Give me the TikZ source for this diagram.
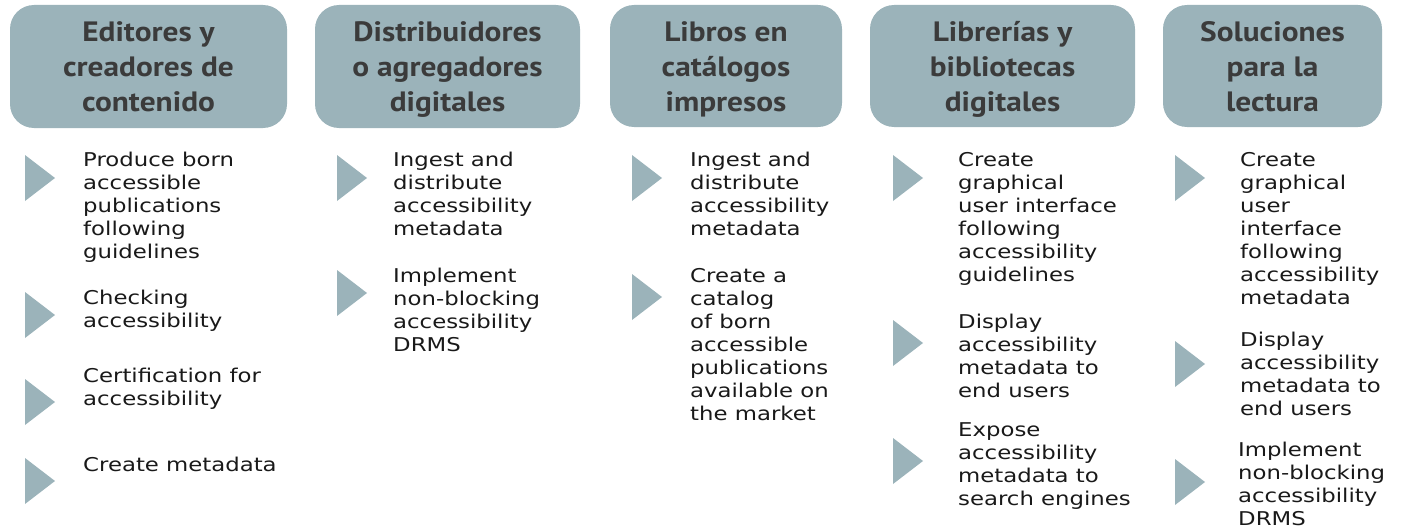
\documentclass[tikz,border=0pt]{standalone}
\usepackage{fontspec}
\setmainfont{DejaVu Sans}
\newfontfamily\bodyfont{DejaVu Sans}[FakeStretch=1.2]
\newfontfamily\headfont{PT Sans}[FakeStretch=1.12]
\definecolor{boxgray}{HTML}{9BB3BA}
\definecolor{headtext}{HTML}{3B3B3B}
\begin{document}
\begin{tikzpicture}[x=1pt, y=-1pt,
    head/.style={fill=boxgray, rounded corners=24pt, inner sep=0pt},
    headlabel/.style={anchor=north, inner sep=0pt, align=center, text=headtext, font=\headfont\bfseries\fontsize{28}{35}\selectfont},
    tri/.style={fill=boxgray},
    body/.style={anchor=north west, inner sep=0pt, align=left, text=black!90, font=\bodyfont\fontsize{19}{23}\selectfont}]
  \useasboundingbox (0,0) rectangle (1402,527);
  % column headers
  \fill[head] (10,5) rectangle (287,128);
  \fill[head] (315,5) rectangle (580,128);
  \fill[head] (610,5) rectangle (842,127);
  \fill[head] (870,5) rectangle (1135,127);
  \fill[head] (1163,5) rectangle (1382,127);
  \node[headlabel] (editores) at (148.5,17) {\strut Editores y\\creadores de\\contenido};
  \node[headlabel] (distrib) at (447.5,17) {\strut Distribuidores\\o agregadores\\digitales};
  \node[headlabel] (libros) at (726,17) {\strut Libros en\\catálogos\\impresos};
  \node[headlabel] (librerias) at (1002.5,17) {\strut Librerías y\\bibliotecas\\digitales};
  \node[headlabel] (soluciones) at (1272.5,17) {\strut Soluciones\\para la\\lectura};
  % bullets
  \foreach \x/\y in {25/178, 25/315, 25/402, 25/481, 337/178, 337/293, 632/178, 632/297,
                     893/178, 893/343, 893/461, 1175/178, 1175/364, 1175/482}
    \fill[tri] (\x,\y-23) -- (\x+30,\y) -- (\x,\y+23) -- cycle;
  % column 1
  \node[body] (ed1) at (83,150) {\strut Produce born\\accessible\\publications\\following\\guidelines};
  \node[body] (ed2) at (83,288) {\strut Checking\\accessibility};
  \node[body] (ed3) at (83,366) {\strut Certification for\\accessibility};
  \node[body] (ed4) at (83,455) {\strut Create metadata};
  % column 2
  \node[body] (di1) at (393,150) {\strut Ingest and\\distribute\\accessibility\\metadata};
  \node[body] (di2) at (393,266) {\strut Implement\\non-blocking\\accessibility\\DRMS};
  % column 3
  \node[body] (li1) at (690,150) {\strut Ingest and\\distribute\\accessibility\\metadata};
  \node[body] (li2) at (690,266) {\strut Create a\\catalog\\of born\\accessible\\publications\\available on\\the market};
  % column 4
  \node[body] (lb1) at (958,150) {\strut Create\\graphical\\user interface\\following\\accessibility\\guidelines};
  \node[body] (lb2) at (958,312) {\strut Display\\accessibility\\metadata to\\end users};
  \node[body] (lb3) at (958,420) {\strut Expose\\accessibility\\metadata to\\search engines};
  % column 5
  \node[body] (so1) at (1240,150) {\strut Create\\graphical\\user\\interface\\following\\accessibility\\metadata};
  \node[body] (so2) at (1240,330) {\strut Display\\accessibility\\metadata to\\end users};
  \node[body] (so3) at (1238,440) {\strut Implement\\non-blocking\\accessibility\\DRMS};
\end{tikzpicture}
\end{document}
